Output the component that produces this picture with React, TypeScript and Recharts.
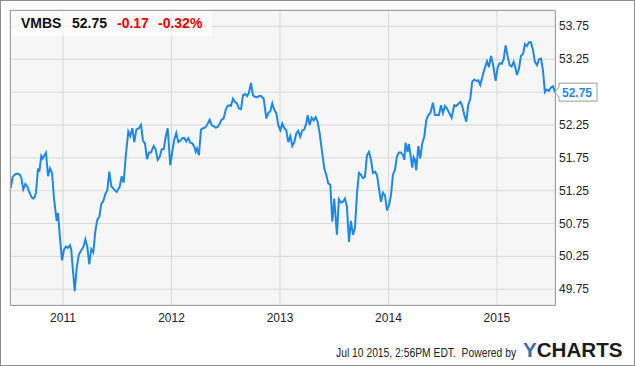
import { LineChart, Line, XAxis, YAxis, CartesianGrid, ReferenceDot } from 'recharts';

// decimal year of each close
const years = [
  2010.518, 2010.536, 2010.560, 2010.585, 2010.604, 2010.616, 2010.634, 2010.653, 2010.671, 2010.689,
  2010.708, 2010.726, 2010.739, 2010.751, 2010.770, 2010.782, 2010.800, 2010.813, 2010.825, 2010.843,
  2010.862, 2010.880, 2010.899, 2010.917, 2010.942, 2010.954, 2010.972, 2010.991, 2011.009, 2011.028,
  2011.046, 2011.065, 2011.076, 2011.089, 2011.108, 2011.126, 2011.145, 2011.163, 2011.187, 2011.206,
  2011.224, 2011.242, 2011.261, 2011.279, 2011.298, 2011.316, 2011.335, 2011.353, 2011.371, 2011.390,
  2011.408, 2011.427, 2011.445, 2011.470, 2011.495, 2011.523, 2011.541, 2011.559, 2011.578, 2011.602,
  2011.620, 2011.639, 2011.657, 2011.676, 2011.700, 2011.719, 2011.737, 2011.756, 2011.774, 2011.793,
  2011.811, 2011.836, 2011.854, 2011.873, 2011.891, 2011.910, 2011.928, 2011.947, 2011.965, 2011.989,
  2012.007, 2012.026, 2012.044, 2012.063, 2012.081, 2012.100, 2012.118, 2012.136, 2012.155, 2012.173,
  2012.192, 2012.210, 2012.223, 2012.235, 2012.253, 2012.272, 2012.290, 2012.309, 2012.327, 2012.352,
  2012.370, 2012.389, 2012.407, 2012.426, 2012.444, 2012.462, 2012.481, 2012.500, 2012.518, 2012.536,
  2012.548, 2012.567, 2012.585, 2012.604, 2012.622, 2012.641, 2012.659, 2012.677, 2012.696, 2012.714,
  2012.733, 2012.751, 2012.770, 2012.788, 2012.806, 2012.825, 2012.850, 2012.874, 2012.892, 2012.911,
  2012.929, 2012.947, 2012.966, 2012.984, 2013.003, 2013.021, 2013.040, 2013.058, 2013.076, 2013.095,
  2013.113, 2013.132, 2013.150, 2013.169, 2013.187, 2013.206, 2013.224, 2013.242, 2013.255, 2013.274,
  2013.292, 2013.311, 2013.329, 2013.347, 2013.366, 2013.384, 2013.408, 2013.427, 2013.445, 2013.464,
  2013.482, 2013.500, 2013.525, 2013.543, 2013.562, 2013.580, 2013.599, 2013.617, 2013.636, 2013.654,
  2013.673, 2013.691, 2013.710, 2013.728, 2013.747, 2013.765, 2013.783, 2013.802, 2013.820, 2013.839,
  2013.857, 2013.876, 2013.894, 2013.912, 2013.931, 2013.949, 2013.968, 2013.986, 2014.005, 2014.023,
  2014.041, 2014.060, 2014.078, 2014.097, 2014.115, 2014.134, 2014.146, 2014.158, 2014.177, 2014.189,
  2014.201, 2014.219, 2014.232, 2014.244, 2014.256, 2014.275, 2014.293, 2014.311, 2014.330, 2014.348,
  2014.367, 2014.385, 2014.410, 2014.428, 2014.447, 2014.465, 2014.484, 2014.502, 2014.521, 2014.539,
  2014.564, 2014.582, 2014.606, 2014.625, 2014.643, 2014.662, 2014.680, 2014.699, 2014.717, 2014.735,
  2014.754, 2014.772, 2014.791, 2014.809, 2014.828, 2014.846, 2014.865, 2014.883, 2014.908, 2014.926,
  2014.945, 2014.963, 2014.988, 2015.006, 2015.024, 2015.043, 2015.062, 2015.080, 2015.099, 2015.117,
  2015.135, 2015.154, 2015.172, 2015.184, 2015.203, 2015.221, 2015.240, 2015.258, 2015.276, 2015.295,
  2015.313, 2015.332, 2015.350, 2015.369, 2015.387, 2015.406, 2015.424, 2015.442, 2015.461, 2015.479,
  2015.498, 2015.516, 2015.535,
];

const prices = [
  51.29, 51.46, 51.50, 51.51, 51.49, 51.44, 51.27, 51.35, 51.31, 51.23,
  51.16, 51.13, 51.15, 51.22, 51.59, 51.54, 51.78, 51.74, 51.78, 51.83,
  51.47, 51.59, 51.52, 51.13, 50.79, 50.91, 50.53, 50.19, 50.35, 50.40,
  50.38, 50.42, 50.35, 50.09, 49.72, 50.07, 50.27, 50.33, 50.39, 50.51,
  50.40, 50.13, 50.36, 50.31, 50.63, 50.81, 50.85, 51.05, 51.09, 51.20,
  51.25, 51.54, 51.32, 51.27, 51.23, 51.31, 51.47, 51.37, 51.77, 52.15,
  52.08, 52.20, 51.99, 52.18, 52.20, 52.25, 52.01, 51.97, 51.73, 51.83,
  51.83, 51.93, 51.88, 51.72, 51.76, 51.88, 51.88, 52.07, 52.20, 51.64,
  51.84, 52.03, 52.13, 51.99, 52.01, 52.05, 52.05, 52.00, 52.05, 51.98,
  51.97, 51.92, 51.84, 51.89, 51.79, 52.18, 52.20, 52.21, 52.25, 52.33,
  52.25, 52.23, 52.21, 52.22, 52.27, 52.33, 52.35, 52.48, 52.54, 52.55,
  52.54, 52.65, 52.60, 52.58, 52.50, 52.49, 52.70, 52.72, 52.69, 52.74,
  52.89, 52.70, 52.68, 52.67, 52.69, 52.69, 52.65, 52.35, 52.43, 52.46,
  52.58, 52.48, 52.43, 52.25, 52.17, 52.27, 52.20, 52.17, 51.99, 52.08,
  51.93, 51.99, 52.12, 52.16, 52.07, 52.17, 52.18, 52.27, 52.40, 52.25,
  52.36, 52.32, 52.37, 52.30, 52.12, 51.89, 51.59, 51.49, 51.36, 51.34,
  50.78, 51.13, 50.58, 51.12, 51.07, 51.08, 51.13, 51.01, 50.47, 50.79,
  50.58, 50.68, 51.21, 51.52, 51.49, 51.44, 51.46, 51.79, 51.84, 51.72,
  51.52, 51.54, 51.49, 51.29, 51.08, 51.22, 51.18, 50.95, 51.03, 51.18,
  51.49, 51.57, 51.77, 51.83, 51.83, 51.79, 51.72, 51.98, 51.84, 51.96,
  51.82, 51.60, 51.76, 51.72, 51.56, 51.93, 51.74, 51.97, 52.07, 52.32,
  52.40, 52.43, 52.59, 52.40, 52.40, 52.40, 52.55, 52.43, 52.54, 52.50,
  52.42, 52.36, 52.55, 52.54, 52.57, 52.60, 52.54, 52.40, 52.30, 52.55,
  52.65, 52.91, 52.94, 52.92, 52.93, 52.86, 52.98, 53.09, 53.22, 53.13,
  53.30, 53.18, 52.92, 53.12, 53.19, 53.18, 53.25, 53.46, 53.29, 53.16,
  53.14, 53.21, 53.11, 53.01, 53.11, 53.30, 53.33, 53.48, 53.45, 53.51,
  53.51, 53.39, 53.21, 53.16, 53.25, 53.26, 53.08, 52.75, 52.79, 52.77,
  52.82, 52.84, 52.75,
];

const yearTicks = [2011, 2012, 2013, 2014, 2015];
const priceTicks = [49.75, 50.25, 50.75, 51.25, 51.75, 52.25, 52.75, 53.25, 53.75];

const ticker = 'VMBS';
const lastPrice = '52.75';
const change = '-0.17';
const changePct = '-0.32%';
const stamp = 'Jul 10 2015, 2:56PM EDT.  Powered by';

const LINE = '#1e88e5';
const FONT = '"Liberation Sans", Arial, sans-serif';

const data = years.map((t, i) => ({ t, price: prices[i] }));
const last = data[data.length - 1];

// price flag on the right edge, pointing at the last close
const LastFlag = (props: any) => {
  const { cx, cy } = props;
  if (cx == null || cy == null) return null;
  const d = `M${cx},${cy} L${cx + 4},${cy - 5} L${cx + 4},${cy - 9} L${cx + 42},${cy - 9} L${cx + 42},${cy + 9} L${cx + 4},${cy + 9} L${cx + 4},${cy + 5} Z`;
  return (
    <g>
      <path d={d} fill="#fff" stroke="#9a9a9a" strokeWidth={1} />
      <text x={cx + 7} y={cy + 4.5} fontFamily={FONT} fontSize={12} fontWeight="bold" fill={LINE}>
        {lastPrice}
      </text>
    </g>
  );
};

const PriceTick = (props: any) => {
  const { x, y, payload } = props;
  if (payload.value === 52.75) return <g />;
  return (
    <text x={x} y={y} dy={4} fontFamily={FONT} fontSize={12} fill="#222" textAnchor="start">
      {payload.value.toFixed(2)}
    </text>
  );
};

export default function App() {
  return (
    <div style={{ position: 'absolute', left: 0, top: 0, width: 635, height: 366, background: '#fff', fontFamily: FONT }}>
      <LineChart width={635} height={366} data={data} margin={{ top: 10, right: 0, bottom: 0, left: 10 }}>
        <CartesianGrid stroke="#d9d9d9" fill="#f6f6f6" />
        <XAxis
          type="number"
          dataKey="t"
          domain={[2010.5115, 2015.535]}
          allowDataOverflow
          ticks={yearTicks}
          tickFormatter={(v: number) => String(v)}
          height={61}
          axisLine={false}
          tickLine={false}
          tickSize={6}
          tickMargin={2}
          tick={{ fontSize: 12, fill: '#222', fontFamily: FONT }}
        />
        <YAxis
          orientation="right"
          domain={[49.51, 54.0]}
          allowDataOverflow
          ticks={priceTicks}
          width={80}
          axisLine={false}
          tickLine={false}
          tickSize={0}
          tickMargin={4}
          tick={<PriceTick />}
        />
        <Line
          type="linear"
          dataKey="price"
          stroke={LINE}
          strokeWidth={2}
          dot={false}
          isAnimationActive={false}
        />
        <ReferenceDot x={last.t} y={last.price} ifOverflow="visible" shape={<LastFlag />} />
      </LineChart>

      {/* plot frame */}
      <div style={{ position: 'absolute', left: 10, top: 10, width: 546, height: 296, border: '1px solid #a0a0a0', boxSizing: 'border-box', pointerEvents: 'none' }} />
      {/* quote box */}
      <div style={{ position: 'absolute', left: 11, top: 11, width: 201, height: 25, background: 'rgba(255,255,255,0.6)' }} />
      <svg width={635} height={366} style={{ position: 'absolute', left: 0, top: 0, pointerEvents: 'none' }}>
        <g fontFamily={FONT} fontSize={14} fontWeight="bold">
          <text x={21} y={28} fill="#111">{ticker}</text>
          <text x={72} y={28} fill="#111">{lastPrice}</text>
          <text x={117} y={28} fill="#ee0000">{change}</text>
          <text x={158} y={28} fill="#ee0000">{changePct}</text>
        </g>
        {/* footer: narrow timestamp, then the logo */}
        <g transform="translate(336,357) scale(0.86,1)">
          <text x={0} y={0} fontFamily={FONT} fontSize={12} fill="#222" xmlSpace="preserve">
            {stamp}
          </text>
        </g>
        <g transform="translate(523,357) scale(1.03,1)">
          <text x={0} y={0} fontFamily={FONT} fontSize={20} fontWeight="bold">
            <tspan fill="#3b6ea5">Y</tspan>
            <tspan fill="#1b1b1b">CHARTS</tspan>
          </text>
        </g>
      </svg>
      {/* outer frame */}
      <div style={{ position: 'absolute', left: 0, top: 0, width: 635, height: 366, border: '1px solid #8c8c8c', boxSizing: 'border-box', pointerEvents: 'none' }} />
    </div>
  );
}
